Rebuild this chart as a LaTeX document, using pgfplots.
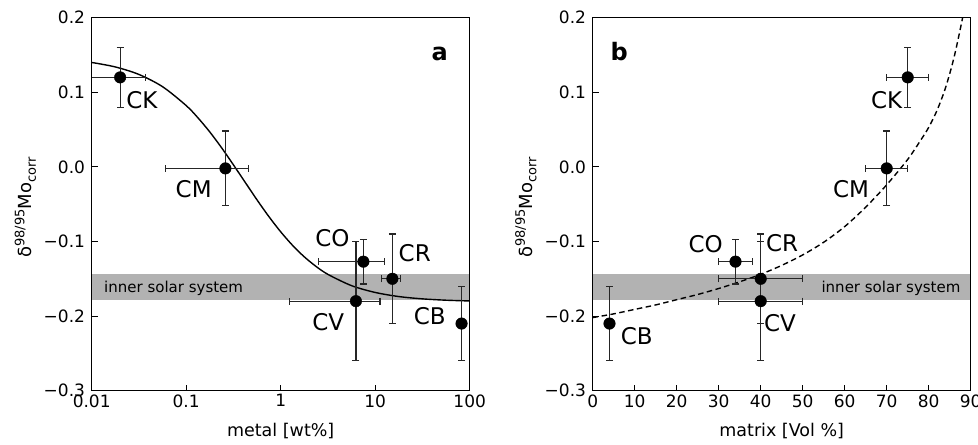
\documentclass[border=0pt]{standalone}
\usepackage{fontspec}
\setmainfont{DejaVu Sans}
\usepackage{pgfplots}
\pgfplotsset{compat=1.18}
\newcommand{\isosup}[1]{\raisebox{0.42em}{\fontsize{13bp}{15bp}\selectfont #1}}
\newcommand{\isosub}[1]{\raisebox{-0.22em}{\fontsize{13bp}{15bp}\selectfont #1}}
\begin{document}
\begin{tikzpicture}
\useasboundingbox (0bp,0bp) rectangle (978bp,445bp);
\pgfplotsset{
  panel/.style={
    scale only axis, width=378bp, height=373bp,
    anchor=south west,
    ymin=-0.3, ymax=0.2,
    ytick={-0.3,-0.2,-0.1,0,0.1,0.2},
    yticklabels={−0.3,−0.2,−0.1,0.0,0.1,0.2},
    tick pos=left, tick align=inside,
    major tick length=6bp,
    every tick/.style={black, line width=1bp},
    axis line style={line width=1.3bp},
    ticklabel style={font=\fontsize{17bp}{20bp}\selectfont, inner sep=0pt},
    xticklabel style={yshift=-3.5bp},
    yticklabel style={xshift=-6.5bp},
    label style={font=\fontsize{17.5bp}{21bp}\selectfont},
    xlabel style={at={(axis description cs:0.5,-0.108)}, anchor=center},
    ylabel={\fontsize{18bp}{21bp}\selectfont δ\isosup{98/95}Mo\isosub{corr}},
    axis on top,
  },
  dot/.style={only marks, mark=*, mark size=5.8bp, black,
    error bars/.cd, x dir=both, x explicit, y dir=both, y explicit,
    error bar style={line width=1.2bp, black!85},
    error mark options={rotate=90, mark size=3.5bp, line width=1.2bp, black!85}},
}
\tikzset{
  lab/.style={font=\fontsize{23bp}{27bp}\selectfont, inner sep=0pt},
  bandtxt/.style={font=\fontsize{15bp}{18bp}\selectfont, inner sep=0pt},
  letter/.style={font=\fontsize{24bp}{28bp}\selectfont\bfseries, inner sep=0pt},
}

% panel a: metal content (log)
\begin{axis}[panel, at={(91.7bp,54.3bp)},
  xmode=log, xmin=0.01, xmax=100,
  xtick={0.01,0.1,1,10,100}, xticklabels={0.01,0.1,1,10,100},
  xminorticks=false,
  xlabel={metal [wt\%]},
  ylabel style={at={(axis description cs:-0.1755,0.491)}, anchor=center},
]
\addplot[draw=none, fill=black!30, forget plot]
  coordinates {(0.01,-0.143) (100,-0.143) (100,-0.179) (0.01,-0.179)};
\addplot[black, line width=1.4bp, smooth] coordinates {
  (0.01,0.1400) (0.01778,0.1340) (0.03162,0.1239) (0.05623,0.1075)
  (0.1,0.0822) (0.13335,0.0657) (0.17783,0.0468) (0.23714,0.0256)
  (0.31623,0.0027) (0.4217,-0.0208) (0.56234,-0.0443) (0.74989,-0.0666)
  (1,-0.0870) (1.33352,-0.1051) (1.77828,-0.1206) (2.37137,-0.1335)
  (3.16228,-0.1441) (5.62341,-0.1592) (10,-0.1683) (17.7828,-0.1738)
  (31.623,-0.1769) (56.234,-0.1787) (100,-0.1797)
};
\addplot[dot] coordinates {
  (0.02,0.12) +- (0.017,0.04)
  (0.26,-0.002) +- (0.2,0.05)
  (7.5,-0.127) +- (5,0.03)
  (15.2,-0.15) +- (3.5,0.06)
  (6.25,-0.18) +- (5,0.08)
  (82,-0.21) +- (0,0.05)
};
\node[bandtxt, anchor=base west] at (axis cs:0.0135,-0.169) {inner solar system};
\node[lab] at (axis cs:0.034,0.090) {CK};
\node[lab] at (axis cs:0.12,-0.030) {CM};
\node[lab] at (axis cs:3.52,-0.096) {CO};
\node[lab] at (axis cs:26.2,-0.115) {CR};
\node[lab] at (axis cs:3.18,-0.2086) {CV};
\node[lab] at (axis cs:37.8,-0.1996) {CB};
\node[letter] at (axis cs:48.2,0.151) {a};
\end{axis}

% panel b: matrix content
\begin{axis}[panel, at={(592.7bp,54.3bp)},
  xmin=0, xmax=90,
  xtick={0,10,...,90}, xticklabels={0,10,20,30,40,50,60,70,80,90},
  xlabel={matrix [Vol \%]},
  ylabel style={at={(axis description cs:-0.1768,0.491)}, anchor=center},
]
\addplot[draw=none, fill=black!30, forget plot]
  coordinates {(0,-0.143) (90,-0.143) (90,-0.179) (0,-0.179)};
\addplot[black, line width=1.4bp, smooth, dash pattern=on 5.5bp off 3.5bp] coordinates {
  (0,-0.202) (5,-0.197) (10,-0.191) (15,-0.185) (20,-0.178) (25,-0.171)
  (30,-0.163) (35,-0.154) (40,-0.144) (45,-0.132) (50,-0.118) (55,-0.101)
  (60,-0.080) (65,-0.054) (70,-0.024) (75,0.010) (78,0.035) (80,0.053)
  (82,0.076) (84,0.106) (86,0.146) (88,0.198) (89,0.230)
};
\addplot[dot] coordinates {
  (75,0.12) +- (5,0.04)
  (70,-0.002) +- (5,0.05)
  (34,-0.127) +- (4,0.03)
  (40,-0.15) +- (10,0.06)
  (40,-0.18) +- (10,0.08)
  (4,-0.21) +- (0,0.05)
};
\node[bandtxt, anchor=base east] at (axis cs:87.6,-0.168) {inner solar system};
\node[lab] at (axis cs:70.0,0.089) {CK};
\node[lab] at (axis cs:61.5,-0.030) {CM};
\node[lab] at (axis cs:26.9,-0.104) {CO};
\node[lab] at (axis cs:45.1,-0.102) {CR};
\node[lab] at (axis cs:44.6,-0.210) {CV};
\node[lab] at (axis cs:10.5,-0.227) {CB};
\node[letter] at (axis cs:6.3,0.154) {b};
\end{axis}
\end{tikzpicture}
\end{document}
